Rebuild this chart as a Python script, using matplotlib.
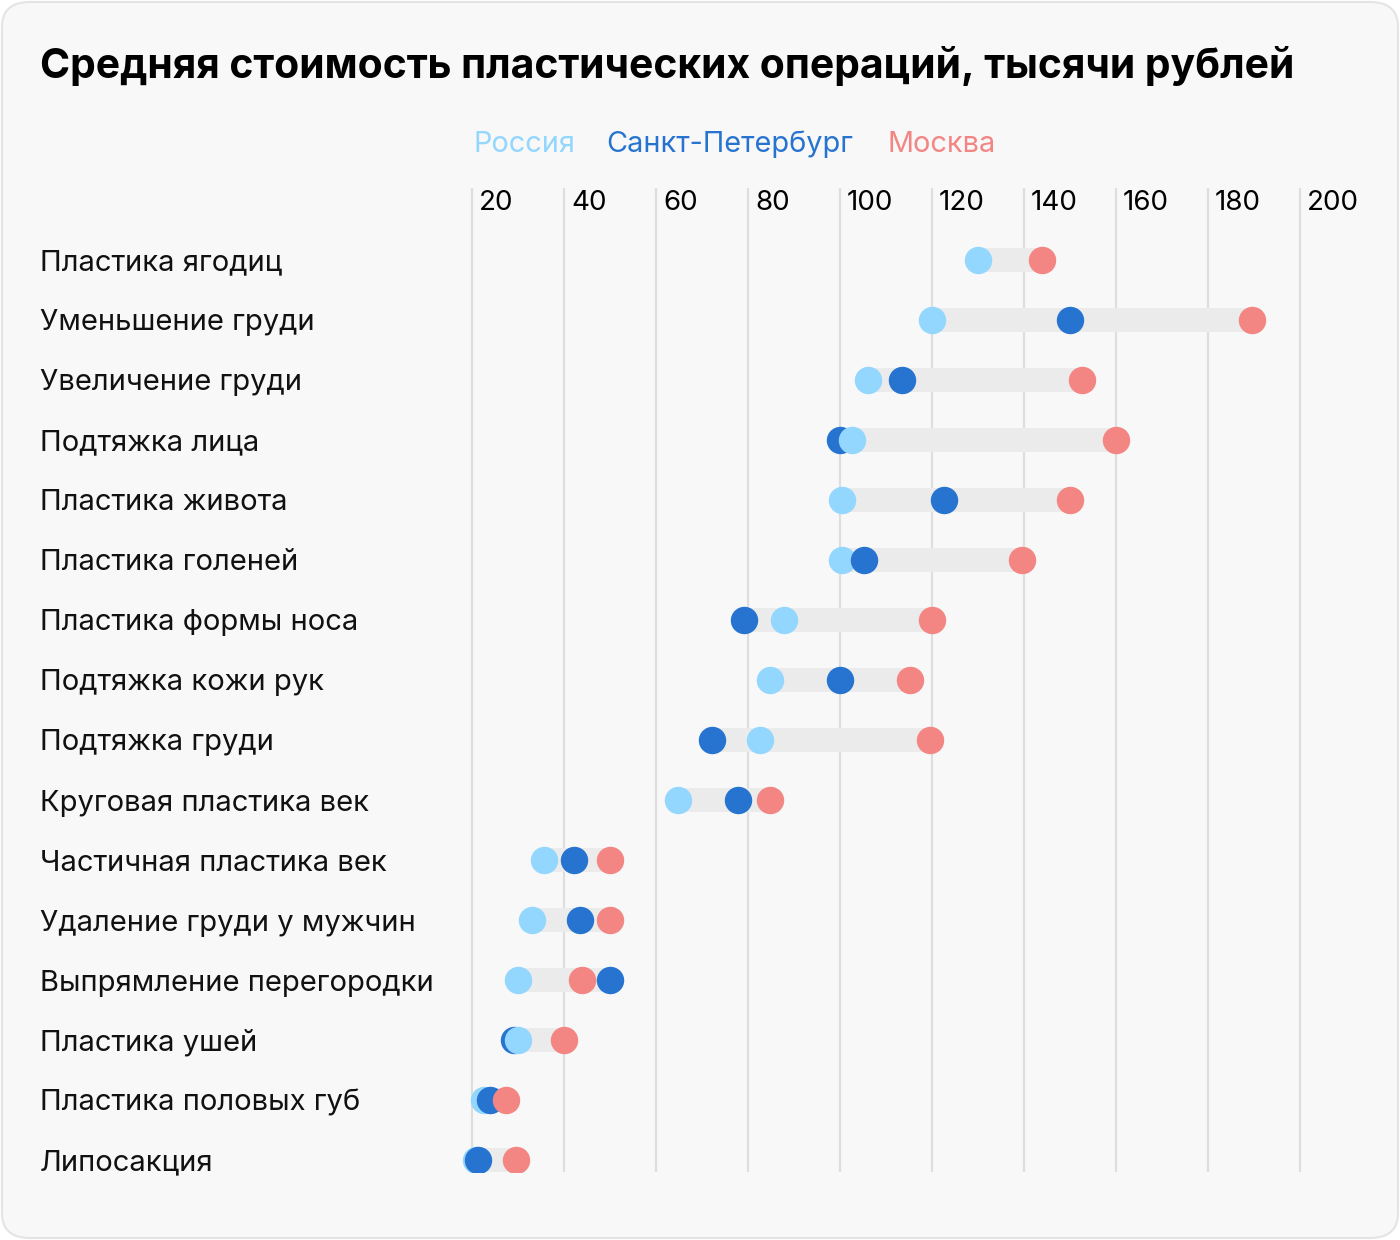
import numpy as np
import matplotlib.pyplot as plt
from matplotlib.patches import FancyBboxPatch
import matplotlib.transforms as mtransforms

plt.rcParams['font.family'] = ['Inter', 'DejaVu Sans']

# Данные: средняя стоимость, тыс. руб.
operations = ['Пластика ягодиц', 'Уменьшение груди', 'Увеличение груди', 'Подтяжка лица',
              'Пластика живота', 'Пластика голеней', 'Пластика формы носа', 'Подтяжка кожи рук',
              'Подтяжка груди', 'Круговая пластика век', 'Частичная пластика век',
              'Удаление груди у мужчин', 'Выпрямление перегородки', 'Пластика ушей',
              'Пластика половых губ', 'Липосакция']
russia = [130, 120, 106, 102.6, 100.4, 100.4, 87.8, 84.8, 82.6, 64.8, 35.7, 33, 30, 30, 22.6, 20.9]
spb = [np.nan, 150, 113.5, 100, 122.6, 105.2, 79.1, 100, 72.2, 77.8, 42.2, 43.5, 50, 29.1, 23.9, 21.3]
moscow = [143.9, 189.6, 152.6, 160, 150, 139.6, 120, 115.2, 119.6, 84.8, 50, 50, 43.9, 40, 27.4, 29.6]
ticks = [20, 40, 60, 80, 100, 120, 140, 160, 180, 200]

c_ru = '#93d6fe'
c_spb = '#2674cf'
c_msk = '#f38583'

W, H = 1400, 1240
fig = plt.figure(figsize=(W / 100, H / 100), dpi=100, facecolor='white')

# карточка с фоном
card = FancyBboxPatch((2 / W, 2 / H), 1 - 4 / W, 1 - 4 / H,
                      boxstyle='round,pad=0,rounding_size=0.02',
                      transform=fig.transFigure, facecolor='#f8f8f8',
                      edgecolor='#e4e4e4', linewidth=1.5, zorder=-10)
fig.patches.append(card)

ax_l, ax_r, ax_t, ax_b = 440, 1360, 188, 1172
ax = fig.add_axes([ax_l / W, 1 - ax_b / H, (ax_r - ax_l) / W, (ax_b - ax_t) / H])
ax.set_facecolor('none')
ax.set_xlim(13.04, 213.04)
ax.set_ylim(15.2, -1.2)
for s in ax.spines.values():
    s.set_visible(False)
ax.set_xticks([])
ax.set_yticks([])

for t in ticks:
    ax.axvline(t, color='#dedede', lw=1.5, zorder=0)
    ax.text(t, -1.0, str(t), ha='left', va='center_baseline', fontsize=20,
            transform=mtransforms.offset_copy(ax.transData, fig=fig, x=5, y=0, units='points'))

rows = np.arange(len(operations))
lo = np.nanmin(np.vstack([russia, spb, moscow]), axis=0)
hi = np.nanmax(np.vstack([russia, spb, moscow]), axis=0)
ax.barh(rows, hi - lo, left=lo, height=0.4, color='#ebebeb', zorder=1)

for i in rows:
    pts = [(russia[i], c_ru), (spb[i], c_spb), (moscow[i], c_msk)]
    pts = [p for p in pts if not np.isnan(p[0])]
    pts.sort(key=lambda p: p[0])
    for k, (v, c) in enumerate(pts):
        ax.scatter([v], [i], s=390, color=c, linewidths=0, zorder=3 + k)

# подписи строк
lab_tr = mtransforms.blended_transform_factory(fig.transFigure, ax.transData)
for i, name in enumerate(operations):
    ax.text(40 / W, i, name, transform=lab_tr, ha='left', va='center_baseline',
            fontsize=21, color='#111111')

fig.text(40 / W, 1 - 66 / H, 'Средняя стоимость пластических операций, тысячи рублей',
         ha='left', va='center', fontsize=29.4, fontweight='bold', color='black')

# легенда
ly = 1 - 141 / H
fig.text(473 / W, ly, 'Россия', color=c_ru, fontsize=20.8, ha='left', va='center_baseline')
fig.text(606 / W, ly, 'Санкт-Петербург', color=c_spb, fontsize=20.8, ha='left', va='center_baseline')
fig.text(887 / W, ly, 'Москва', color=c_msk, fontsize=20.8, ha='left', va='center_baseline')

fig.savefig('out.png', dpi=100, facecolor='white')
